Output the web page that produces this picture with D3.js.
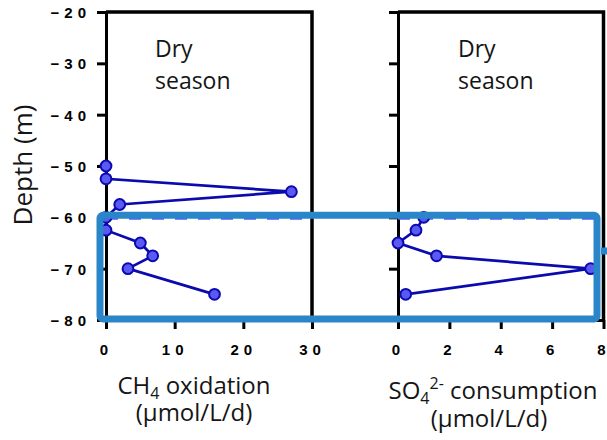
<!DOCTYPE html>
<html>
<head>
<meta charset="utf-8">
<script src="https://cdn.jsdelivr.net/npm/d3@7"></script>
<style>
  html, body { margin: 0; padding: 0; background: #fff; }
  svg { display: block; }
</style>
</head>
<body>
<svg id="chart" width="607" height="440"></svg>
<script>
// Depth profiles (m) and process rates (µmol/L/d), dry season
const ch4Depths = [-50, -52.5, -55, -57.5, -60, -62.5, -65, -67.5, -70, -75];
const ch4Oxidation = [0, 0, 27, 2, 0, 0, 5, 6.8, 3.2, 15.8];

const so4Depths = [-60, -62.5, -65, -67.5, -70, -75];
const so4Consumption = [1, 0.7, 0, 1.5, 7.5, 0.3];

const depthTicks = [-20, -30, -40, -50, -60, -70, -80];
const ch4Ticks = [0, 10, 20, 30];
const so4Ticks = [0, 2, 4, 6, 8];

// Depth marking the boundary of the highlighted zone
const boundaryDepth = -60;
const zoneBottom = -80;

const svg = d3.select("#chart");

const y = d3.scaleLinear().domain([-20, -80]).range([12, 320]);

const panels = [
  { x0: 106, x1: 312, domain: [0, 30], ticks: ch4Ticks, depths: ch4Depths, values: ch4Oxidation, showY: true, labelX: 155 },
  { x0: 398, x1: 603.5, domain: [0, 8], ticks: so4Ticks, depths: so4Depths, values: so4Consumption, showY: false, labelX: 458 }
];

const tickFont = "'Liberation Sans', Arial, sans-serif";
const textFont = "'Open Sans', 'Noto Sans', sans-serif";
const textColor = "#151515";

panels.forEach(p => {
  p.x = d3.scaleLinear().domain(p.domain).range([p.x0, p.x1]);
  const g = svg.append("g");

  // y axis
  const yAxis = d3.axisLeft(y).tickValues(depthTicks).tickSize(9).tickSizeOuter(0).tickPadding(6)
    .tickFormat(p.showY ? d3.format("d") : () => "");
  const ya = g.append("g").attr("transform", `translate(${p.x0},0)`).call(yAxis);

  // x axis
  const xAxis = d3.axisBottom(p.x).tickValues(p.ticks).tickSize(9).tickSizeOuter(0).tickPadding(15)
    .tickFormat(d3.format("d"));
  const xa = g.append("g").attr("transform", `translate(0,${y(-80)})`).call(xAxis);

  [ya, xa].forEach(a => {
    a.select(".domain").attr("stroke", "#000").attr("stroke-width", 3);
    a.selectAll(".tick line").attr("stroke", "#000").attr("stroke-width", 3);
    a.selectAll(".tick text")
      .attr("fill", "#000")
      .style("font-family", tickFont)
      .style("font-weight", "bold")
      .style("font-size", "15px")
      .style("letter-spacing", "5px");
  });
  ya.selectAll(".tick text").attr("dy", "0.36em");

  // frame: top and right edges
  g.append("path")
    .attr("d", `M${p.x0},${y(-20)} H${p.x1} V${y(-80)}`)
    .attr("fill", "none").attr("stroke", "#000").attr("stroke-width", 3.5);

  // dashed boundary
  g.append("line")
    .attr("x1", p.x0).attr("x2", p.x1)
    .attr("y1", y(boundaryDepth) + 1).attr("y2", y(boundaryDepth) + 1)
    .attr("stroke", "#5b5bff").attr("stroke-width", 3)
    .attr("stroke-dasharray", "12,11");

  // profile line and points
  const pts = p.depths.map((d, i) => [p.values[i], d]);
  g.append("path")
    .datum(pts)
    .attr("fill", "none")
    .attr("stroke", "#0a0aad")
    .attr("stroke-width", 2.7)
    .attr("d", d3.line().x(d => p.x(d[0])).y(d => y(d[1])));
  g.selectAll("circle.pt").data(pts).join("circle")
    .attr("class", "pt")
    .attr("cx", d => p.x(d[0])).attr("cy", d => y(d[1]))
    .attr("r", 5.4)
    .attr("fill", "#5a5af2")
    .attr("stroke", "#0a0ab0")
    .attr("stroke-width", 2);

  // season label
  g.append("text")
    .attr("x", p.labelX).attr("y", 57)
    .style("font-family", textFont).style("font-size", "23px").attr("fill", textColor)
    .text("Dry");
  g.append("text")
    .attr("x", p.labelX).attr("y", 89)
    .style("font-family", textFont).style("font-size", "23px").attr("fill", textColor)
    .text("season");
});

// y axis title
svg.append("text")
  .attr("transform", `translate(32,${165}) rotate(-90)`)
  .attr("text-anchor", "middle")
  .style("font-family", textFont).style("font-size", "26px").attr("fill", textColor)
  .text("Depth (m)");

// x axis titles
const t1 = svg.append("text")
  .attr("x", 194).attr("y", 394).attr("text-anchor", "middle")
  .style("font-family", textFont).style("font-size", "24px").attr("fill", textColor);
t1.append("tspan").text("CH");
t1.append("tspan").attr("dy", 5).style("font-size", "16px").text("4");
t1.append("tspan").attr("dy", -5).text(" oxidation");
svg.append("text")
  .attr("x", 194).attr("y", 421).attr("text-anchor", "middle")
  .style("font-family", textFont).style("font-size", "24px").attr("fill", textColor)
  .text("(µmol/L/d)");

const t2 = svg.append("text")
  .attr("x", 493).attr("y", 399).attr("text-anchor", "middle")
  .style("font-family", textFont).style("font-size", "24px").attr("fill", textColor);
t2.append("tspan").text("SO");
t2.append("tspan").attr("dy", 5).style("font-size", "16px").text("4");
t2.append("tspan").attr("dy", -15).style("font-size", "16px").text("2-");
t2.append("tspan").attr("dy", 10).text(" consumption");
svg.append("text")
  .attr("x", 489).attr("y", 427).attr("text-anchor", "middle")
  .style("font-family", textFont).style("font-size", "24px").attr("fill", textColor)
  .text("(µmol/L/d)");

// highlighted depth zone spanning both panels
const zoneColor = "#2a86c8";
svg.append("rect")
  .attr("x", 100).attr("y", y(boundaryDepth) - 2)
  .attr("width", 597 - 100).attr("height", y(zoneBottom) - 1 - (y(boundaryDepth) - 2))
  .attr("rx", 3)
  .attr("fill", "none").attr("stroke", zoneColor).attr("stroke-width", 7);
svg.append("rect")
  .attr("x", 601).attr("y", 247.5).attr("width", 6).attr("height", 7)
  .attr("fill", zoneColor);
</script>
</body>
</html>
